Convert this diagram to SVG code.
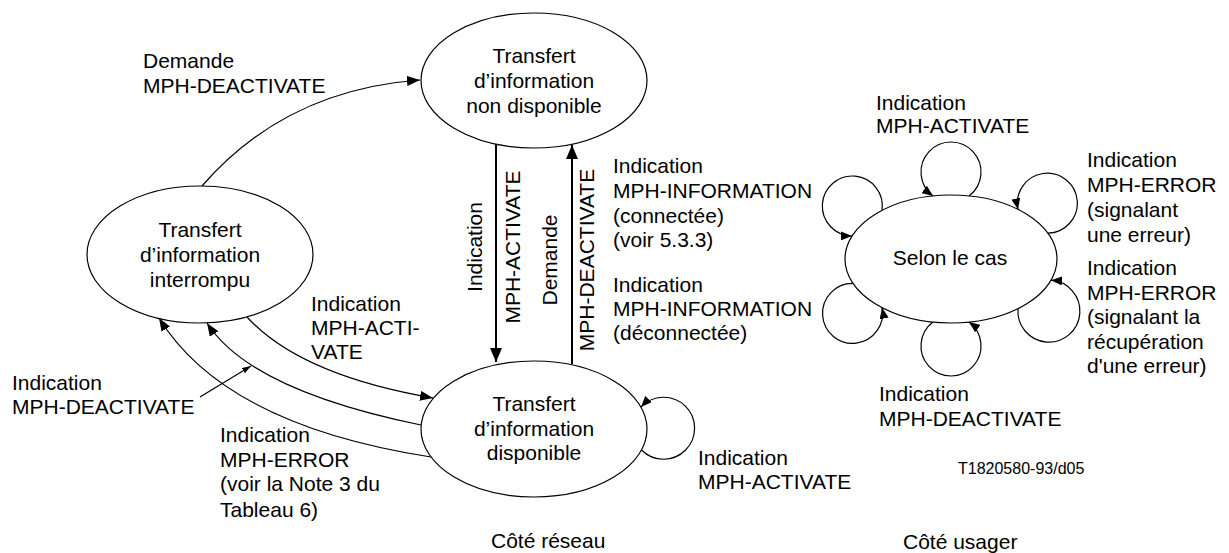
<svg xmlns="http://www.w3.org/2000/svg" width="1229" height="553" viewBox="0 0 1229 553">
<style>
  text { font-family: "Liberation Sans", Arial, sans-serif; font-size: 21px; fill: #000; }
  .c { text-anchor: middle; }
  .small { font-size: 16px; }
  .node { fill: #fff; stroke: #000; stroke-width: 1.2; }
  .edge { fill: none; stroke: #000; stroke-width: 1.2; }
  .thick { fill: none; stroke: #000; stroke-width: 2; }
</style>
<defs>
  <marker id="aBig" markerUnits="userSpaceOnUse" viewBox="0 0 14 12" refX="14" refY="6" markerWidth="14" markerHeight="12" orient="auto">
    <path d="M0,0 L14,6 L0,12 z" fill="#000"/>
  </marker>
  <marker id="aMed" markerUnits="userSpaceOnUse" viewBox="0 0 13 10" refX="13" refY="5" markerWidth="13" markerHeight="10" orient="auto">
    <path d="M0,0 L13,5 L0,10 z" fill="#000"/>
  </marker>
  <marker id="aLoop" markerUnits="userSpaceOnUse" viewBox="0 0 11 9" refX="11" refY="4.5" markerWidth="11" markerHeight="9" orient="auto">
    <path d="M0,0 L11,4.5 L0,9 z" fill="#000"/>
  </marker>
  <marker id="aSmall" markerUnits="userSpaceOnUse" viewBox="0 0 9 6" refX="9" refY="3" markerWidth="9" markerHeight="6" orient="auto">
    <path d="M0,0 L9,3 L0,6 z" fill="#000"/>
  </marker>
</defs>

<g id="connectors">
  <path class="edge" d="M202,186 Q285,90 420,80" marker-end="url(#aMed)"/>
  <path class="thick" d="M496,144 L496,362" marker-end="url(#aBig)"/>
  <path class="thick" d="M572,364 L572,145" marker-end="url(#aBig)"/>
  <path class="edge" d="M247,317 Q300,375 433,398" marker-end="url(#aMed)"/>
  <path class="edge" d="M421,425 Q250,390 207,323" marker-end="url(#aMed)"/>
  <path class="edge" d="M431,457 Q225,425 159,318" marker-end="url(#aMed)"/>
  <path class="edge" d="M200,397 L251,366" marker-end="url(#aSmall)"/>
  <path class="edge" d="M641.5,450 A31,31 0 1 0 641,407" marker-end="url(#aLoop)"/>
  <path class="edge" d="M969,196 A30,30 0 1 0 933,196" marker-end="url(#aLoop)"/>
  <path class="edge" d="M882,210.4 A30,30 0 1 0 852,236" marker-end="url(#aLoop)"/>
  <path class="edge" d="M1048,233.2 A30,30 0 1 0 1018,209.4" marker-end="url(#aLoop)"/>
  <path class="edge" d="M1018,308.6 A31,31 0 1 0 1051,280.2" marker-end="url(#aLoop)"/>
  <path class="edge" d="M933,322 A30,30 0 1 0 969,322" marker-end="url(#aLoop)"/>
  <path class="edge" d="M853,283.4 A30,30 0 1 0 882,307.6" marker-end="url(#aLoop)"/>
</g>

<g id="node-non-disponible">
  <ellipse class="node" cx="534" cy="80.5" rx="113" ry="67.5"/>
  <text class="c" x="534" y="63">Transfert</text>
  <text class="c" x="534" y="88">d’information</text>
  <text class="c" x="534" y="113">non disponible</text>
</g>

<g id="node-interrompu">
  <ellipse class="node" cx="200" cy="254.5" rx="113" ry="68.5"/>
  <text class="c" x="200" y="237">Transfert</text>
  <text class="c" x="200" y="262">d’information</text>
  <text class="c" x="200" y="287">interrompu</text>
</g>

<g id="node-disponible">
  <ellipse class="node" cx="534" cy="429" rx="113" ry="68"/>
  <text class="c" x="534" y="411">Transfert</text>
  <text class="c" x="534" y="436">d’information</text>
  <text class="c" x="534" y="460">disponible</text>
</g>

<g id="node-selon">
  <ellipse class="node" cx="951" cy="259" rx="106" ry="64"/>
  <text class="c" x="950" y="265">Selon le cas</text>
</g>

<g id="labels">
  <text x="143" y="68">Demande</text>
  <text x="143" y="93">MPH-DEACTIVATE</text>

  <text class="c" transform="translate(482,247) rotate(-90)">Indication</text>
  <text class="c" transform="translate(520,247) rotate(-90)">MPH-ACTIVATE</text>
  <text class="c" transform="translate(557,260) rotate(-90)">Demande</text>
  <text class="c" transform="translate(594,260) rotate(-90)">MPH-DEACTIVATE</text>

  <text x="613" y="173">Indication</text>
  <text x="613" y="198">MPH-INFORMATION</text>
  <text x="613" y="223">(connectée)</text>
  <text x="613" y="247">(voir 5.3.3)</text>

  <text x="613" y="292">Indication</text>
  <text x="613" y="316">MPH-INFORMATION</text>
  <text x="613" y="340">(déconnectée)</text>

  <text x="311" y="311">Indication</text>
  <text x="311" y="335">MPH-ACTI-</text>
  <text x="311" y="359">VATE</text>

  <text x="12" y="390">Indication</text>
  <text x="12" y="414">MPH-DEACTIVATE</text>

  <text x="220" y="442">Indication</text>
  <text x="220" y="467">MPH-ERROR</text>
  <text x="220" y="491">(voir la Note 3 du</text>
  <text x="220" y="517">Tableau 6)</text>

  <text x="698" y="465">Indication</text>
  <text x="698" y="489">MPH-ACTIVATE</text>

  <text x="491" y="548">Côté réseau</text>

  <text x="876" y="110">Indication</text>
  <text x="876" y="133">MPH-ACTIVATE</text>

  <text x="1087" y="167">Indication</text>
  <text x="1087" y="192">MPH-ERROR</text>
  <text x="1087" y="217">(signalant</text>
  <text x="1087" y="242">une erreur)</text>

  <text x="1087" y="275">Indication</text>
  <text x="1087" y="300">MPH-ERROR</text>
  <text x="1087" y="324">(signalant la</text>
  <text x="1087" y="349">récupération</text>
  <text x="1087" y="373">d'une erreur)</text>

  <text x="879" y="401">Indication</text>
  <text x="879" y="426">MPH-DEACTIVATE</text>

  <text class="small" x="958" y="474">T1820580-93/d05</text>
  <text x="903" y="549">Côté usager</text>
</g>
</svg>
